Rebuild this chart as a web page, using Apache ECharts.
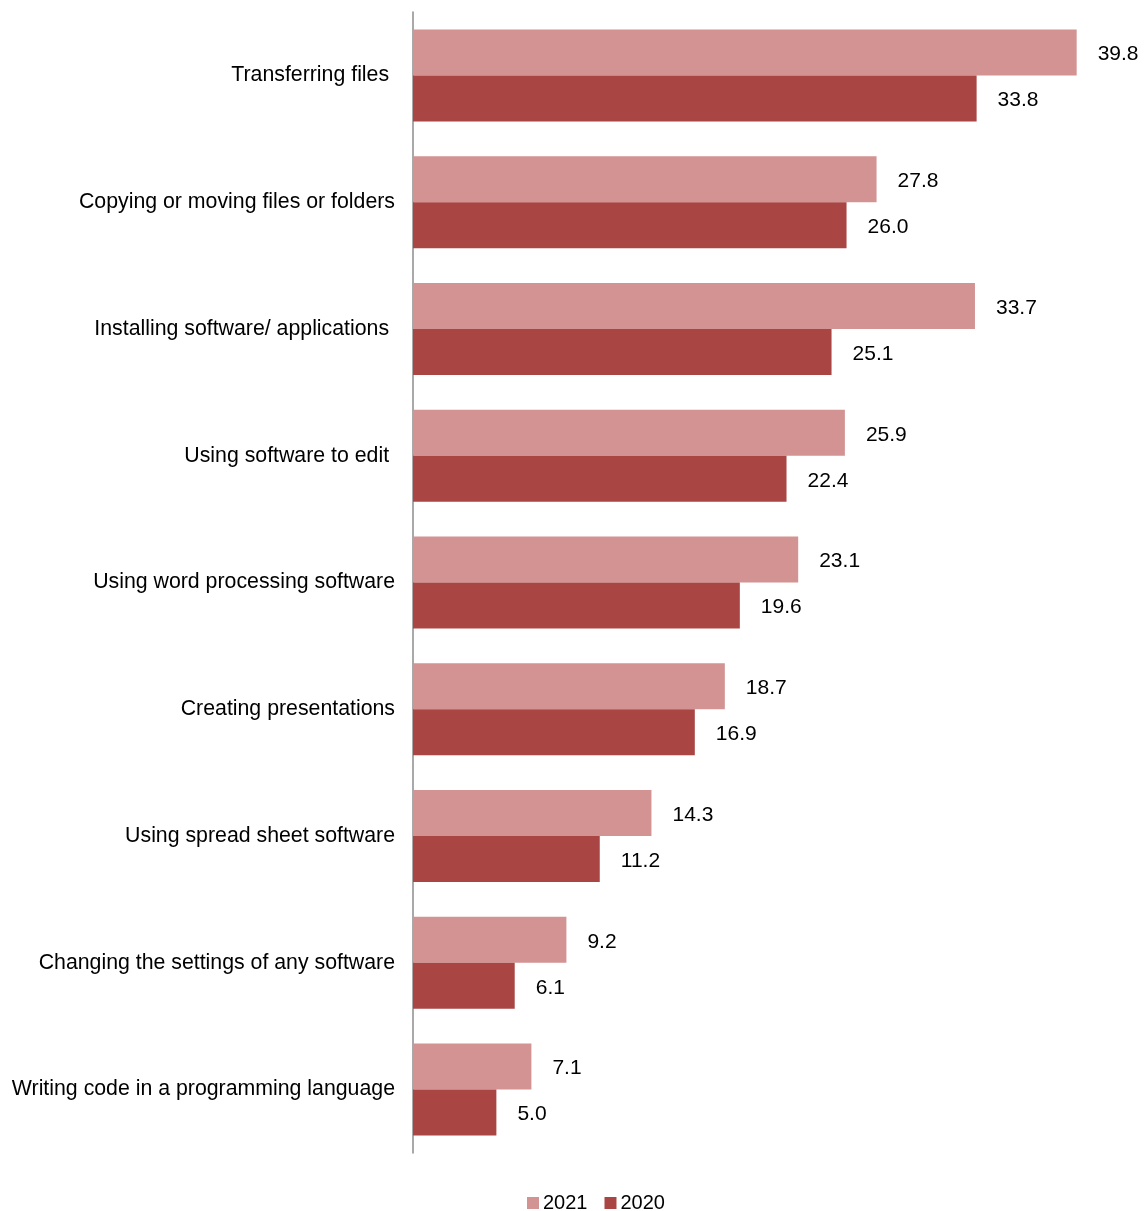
<!DOCTYPE html>
<html>
<head>
<meta charset="utf-8">
<script src="https://cdn.jsdelivr.net/npm/echarts@6/dist/echarts.min.js"></script>
<style>
  html, body { margin: 0; padding: 0; background: #fff; }
  #chart { width: 1144px; height: 1211px; }
</style>
</head>
<body>
<div id="chart"></div>
<script>
// categories, top to bottom (trailing spaces as in the original labels)
var categories = [
  'Transferring files ',
  'Copying or moving files or folders',
  'Installing software/ applications ',
  'Using software to edit ',
  'Using word processing software',
  'Creating presentations',
  'Using spread sheet software',
  'Changing the settings of any software',
  'Writing code in a programming language'
];
var values2021 = [39.8, 27.8, 33.7, 25.9, 23.1, 18.7, 14.3, 9.2, 7.1];
var values2020 = [33.8, 26.0, 25.1, 22.4, 19.6, 16.9, 11.2, 6.1, 5.0];

var myChart = echarts.init(document.getElementById('chart'));

var labelStyle = {
  show: true,
  position: 'right',
  distance: 21,
  offset: [0, 2],
  color: '#000',
  fontSize: 21,
  fontFamily: 'Liberation Sans, Arial, sans-serif',
  formatter: function (p) { return p.value.toFixed(1); }
};

var option = {
  animation: false,
  textStyle: { fontFamily: 'Liberation Sans, Arial, sans-serif' },
  grid: { left: 413, top: 12, width: 667, height: 1141, containLabel: false },
  legend: {
    left: 522,
    top: 1188,
    itemWidth: 12,
    itemHeight: 12,
    itemGap: 17,
    icon: 'rect',
    textStyle: { fontSize: 20, color: '#000', padding: [0, 0, 0, -1] },
    data: ['2021', '2020']
  },
  xAxis: {
    type: 'value',
    min: 0,
    max: 40,
    show: false,
    splitLine: { show: false }
  },
  yAxis: {
    type: 'category',
    inverse: true,
    data: categories,
    axisLine: { show: true, lineStyle: { color: '#8c8c8c', width: 1.5 } },
    axisTick: { show: false },
    axisLabel: { color: '#000', fontSize: 21.3, margin: 18, padding: [3, 0, 0, 0] }
  },
  series: [
    {
      name: '2021',
      type: 'bar',
      data: values2021,
      barWidth: 46,
      barGap: '0%',
      itemStyle: { color: '#d29392' },
      label: labelStyle
    },
    {
      name: '2020',
      type: 'bar',
      data: values2020,
      barWidth: 46,
      barGap: '0%',
      itemStyle: { color: '#a94644' },
      label: labelStyle
    }
  ]
};

myChart.setOption(option);
</script>
</body>
</html>
